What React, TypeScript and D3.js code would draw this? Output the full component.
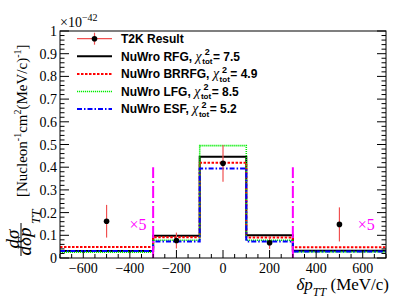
import { useEffect, useRef } from 'react';
import * as d3 from 'd3';

const binEdges = [-700, -300, -100, 100, 300, 700];
const rfgValues = [0.031, 0.098, 0.446, 0.1, 0.032];
const brrfgValues = [0.048, 0.091, 0.42, 0.09, 0.047];
const lfgValues = [0.026, 0.078, 0.495, 0.078, 0.027];
const esfValues = [0.031, 0.073, 0.394, 0.073, 0.029];

const dataX = [-500, -200, 0, 200, 500];
const dataY = [0.162, 0.077, 0.417, 0.067, 0.148];
const dataErr = [0.072, 0.035, 0.081, 0.027, 0.075];

const xTicks = [-600, -400, -200, 0, 200, 400, 600];
const yTicks = [0, 0.1, 0.2, 0.3, 0.4, 0.5, 0.6, 0.7, 0.8, 0.9, 1];
const scaleLines = [-300, 300];
const scaleTop = 0.4;
const scaleLabels = [
  { x: -365, y: 0.123, text: '×5' },
  { x: 615, y: 0.123, text: '×5' },
];

const models = [
  { name: 'NuWro RFG', chi: '7.5', values: rfgValues, color: '#000000', width: 2, dash: '' },
  { name: 'NuWro BRRFG', chi: '4.9', values: brrfgValues, color: '#ff0000', width: 2, dash: '2.5,1.5' },
  { name: 'NuWro LFG', chi: '8.5', values: lfgValues, color: '#00ee00', width: 1.6, dash: '1.2,0.8' },
  { name: 'NuWro ESF', chi: '5.2', values: esfValues, color: '#0000ff', width: 2, dash: '5,2,1.5,2' },
];

export default function App() {
  const svgRef = useRef<SVGSVGElement>(null);

  useEffect(() => {
    if (!svgRef.current) return;
    const svg = d3.select(svgRef.current);
    svg.selectAll('*').remove();

    const W = 407;
    const H = 305;
    const margin = { top: 31, right: 21, bottom: 47, left: 60 };
    const x = d3.scaleLinear().domain([-700, 700]).range([margin.left, W - margin.right]);
    const y = d3.scaleLinear().domain([0, 1]).range([H - margin.bottom, margin.top]);
    const serif = '"Liberation Serif", "Times New Roman", serif';
    const sans = '"Liberation Sans", Arial, sans-serif';

    svg.append('rect').attr('width', W).attr('height', H).attr('fill', '#fff');

    // models
    models.forEach(m => {
      const pts: [number, number][] = m.values.map((v, i) => [binEdges[i], v]);
      pts.push([binEdges[binEdges.length - 1], m.values[m.values.length - 1]]);
      const line = d3.line<[number, number]>()
        .x(d => x(d[0]))
        .y(d => y(d[1]))
        .curve(d3.curveStepAfter);
      svg.append('path')
        .attr('d', line(pts))
        .attr('fill', 'none')
        .attr('stroke', m.color)
        .attr('stroke-width', m.width)
        .attr('stroke-dasharray', m.dash);
    });

    // scale markers
    scaleLines.forEach(v => {
      svg.append('line')
        .attr('x1', x(v)).attr('x2', x(v))
        .attr('y1', y(0)).attr('y2', y(scaleTop))
        .attr('stroke', '#ff00ff')
        .attr('stroke-width', 2)
        .attr('stroke-dasharray', '12,3,2,3');
    });
    scaleLabels.forEach(l => {
      svg.append('text')
        .attr('x', x(l.x)).attr('y', y(l.y))
        .attr('text-anchor', 'middle')
        .attr('font-family', serif)
        .attr('font-size', 16)
        .attr('fill', '#ff00ff')
        .text(l.text);
    });

    // data
    dataX.forEach((dx, i) => {
      svg.append('line')
        .attr('x1', x(dx)).attr('x2', x(dx))
        .attr('y1', y(dataY[i] - dataErr[i])).attr('y2', y(dataY[i] + dataErr[i]))
        .attr('stroke', '#f05050')
        .attr('stroke-width', 1.2);
      svg.append('circle')
        .attr('cx', x(dx)).attr('cy', y(dataY[i]))
        .attr('r', 2.8)
        .attr('fill', '#000');
    });

    // frame
    svg.append('rect')
      .attr('x', margin.left).attr('y', margin.top)
      .attr('width', W - margin.left - margin.right)
      .attr('height', H - margin.top - margin.bottom)
      .attr('fill', 'none')
      .attr('stroke', '#000')
      .attr('stroke-width', 1);

    const ticks = svg.append('g').attr('stroke', '#000').attr('stroke-width', 1);
    const x0 = x(-700), x1 = x(700), y0 = y(0);
    d3.range(-700, 701, 50).forEach(v => {
      const major = v % 200 === 0;
      const len = major ? 8 : 4;
      ticks.append('line').attr('x1', x(v)).attr('x2', x(v)).attr('y1', y0).attr('y2', y0 - len);
    });
    d3.range(0, 51).forEach(k => {
      const v = k / 50;
      const major = k % 5 === 0;
      const len = major ? 9 : 4.5;
      ticks.append('line').attr('x1', x0).attr('x2', x0 + len).attr('y1', y(v)).attr('y2', y(v));
      ticks.append('line').attr('x1', x1).attr('x2', x1 - len).attr('y1', y(v)).attr('y2', y(v));
    });

    xTicks.forEach(v => {
      svg.append('text')
        .attr('x', x(v)).attr('y', y0 + 15)
        .attr('text-anchor', 'middle')
        .attr('font-family', serif)
        .attr('font-size', 14)
        .text(v < 0 ? `−${Math.abs(v)}` : `${v}`);
    });
    yTicks.forEach(v => {
      svg.append('text')
        .attr('x', x0 - 3).attr('y', y(v) + 5)
        .attr('text-anchor', 'end')
        .attr('font-family', serif)
        .attr('font-size', 14)
        .text(v === 0 ? '0' : v === 1 ? '1' : d3.format('.1f')(v));
    });

    // exponent
    const ex = svg.append('text').attr('x', x0).attr('y', 27)
      .attr('font-family', serif).attr('font-size', 14);
    ex.append('tspan').text('×10');
    ex.append('tspan').attr('dy', -6).attr('font-size', 10).text('−42');

    // x title
    const xt = svg.append('text').attr('x', 389).attr('y', 290)
      .attr('text-anchor', 'end')
      .attr('font-family', serif).attr('font-size', 17);
    xt.append('tspan').attr('font-style', 'italic').text('δp');
    xt.append('tspan').attr('dy', 6).attr('font-size', 12).attr('font-style', 'italic').text('TT');
    xt.append('tspan').attr('dy', -6).text(' (MeV/c)');

    // y title
    const yg = svg.append('g').attr('transform', 'rotate(-90)').attr('font-family', serif);
    const yb = yg.append('text').attr('x', -197).attr('y', 27).attr('font-size', 15);
    yb.append('tspan').text('[Nucleon');
    yb.append('tspan').attr('dy', -6).attr('font-size', 10).text('-1');
    yb.append('tspan').attr('dy', 6).text('cm');
    yb.append('tspan').attr('dy', -6).attr('font-size', 10).text('2');
    yb.append('tspan').attr('dy', 6).text('(MeV/c)');
    yb.append('tspan').attr('dy', -6).attr('font-size', 10).text('-1');
    yb.append('tspan').attr('dy', 6).text(']');
    yg.append('text').attr('x', -239).attr('y', 18.5).attr('text-anchor', 'middle')
      .attr('font-size', 19).attr('font-style', 'italic').text('dσ');
    yg.append('line').attr('x1', -256).attr('x2', -223).attr('y1', 21).attr('y2', 21)
      .attr('stroke', '#000').attr('stroke-width', 1);
    yg.append('text').attr('x', -241.5).attr('y', 31).attr('text-anchor', 'middle')
      .attr('font-size', 19).attr('font-style', 'italic').text('dδp');
    yg.append('text').attr('x', -224).attr('y', 39.5)
      .attr('font-size', 13).attr('font-style', 'italic').text('TT');

    // legend
    const lx0 = 77, lx1 = 112, tx = 121;
    const rowY = (i: number) => 38.7 + i * 17.6;
    svg.append('line').attr('x1', lx0).attr('x2', lx1).attr('y1', rowY(0)).attr('y2', rowY(0))
      .attr('stroke', '#f05050').attr('stroke-width', 1.2);
    svg.append('line').attr('x1', (lx0 + lx1) / 2).attr('x2', (lx0 + lx1) / 2)
      .attr('y1', rowY(0) - 6).attr('y2', rowY(0) + 6)
      .attr('stroke', '#f05050').attr('stroke-width', 1.2);
    svg.append('circle').attr('cx', (lx0 + lx1) / 2).attr('cy', rowY(0)).attr('r', 2.8).attr('fill', '#000');
    svg.append('text').attr('x', tx).attr('y', rowY(0) + 4.3)
      .attr('font-family', sans).attr('font-weight', 'bold').attr('font-size', 12)
      .text('T2K Result');

    models.forEach((m, k) => {
      const i = k + 1;
      const cy = rowY(i);
      svg.append('line').attr('x1', lx0).attr('x2', lx1).attr('y1', cy).attr('y2', cy)
        .attr('stroke', m.color).attr('stroke-width', m.width).attr('stroke-dasharray', m.dash);
      const base = cy + 4.3;
      const t1 = svg.append('text').attr('x', tx).attr('y', base)
        .attr('font-family', sans).attr('font-weight', 'bold').attr('font-size', 12)
        .text(`${m.name},`);
      const w1 = (t1.node() as SVGTextElement).getComputedTextLength();
      const cx = tx + w1 + 3.5;
      const t2 = svg.append('text').attr('x', cx).attr('y', base)
        .attr('font-family', serif).attr('font-style', 'italic').attr('font-size', 14)
        .text('χ');
      const w2 = (t2.node() as SVGTextElement).getComputedTextLength();
      const sx = cx + w2 + 0.5;
      svg.append('text').attr('x', sx + 2.5).attr('y', base - 5.5)
        .attr('font-family', sans).attr('font-weight', 'bold').attr('font-size', 9).text('2');
      const t4 = svg.append('text').attr('x', sx).attr('y', base + 3.5)
        .attr('font-family', sans).attr('font-weight', 'bold').attr('font-size', 8).text('tot');
      const w4 = (t4.node() as SVGTextElement).getComputedTextLength();
      svg.append('text').attr('x', sx + w4 + 0.5).attr('y', base)
        .attr('font-family', sans).attr('font-weight', 'bold').attr('font-size', 12)
        .text(`= ${m.chi}`);
    });
  }, []);

  return (
    <svg
      ref={svgRef}
      width={407}
      height={305}
      style={{ position: 'absolute', left: 0, top: 0, display: 'block' }}
    />
  );
}
